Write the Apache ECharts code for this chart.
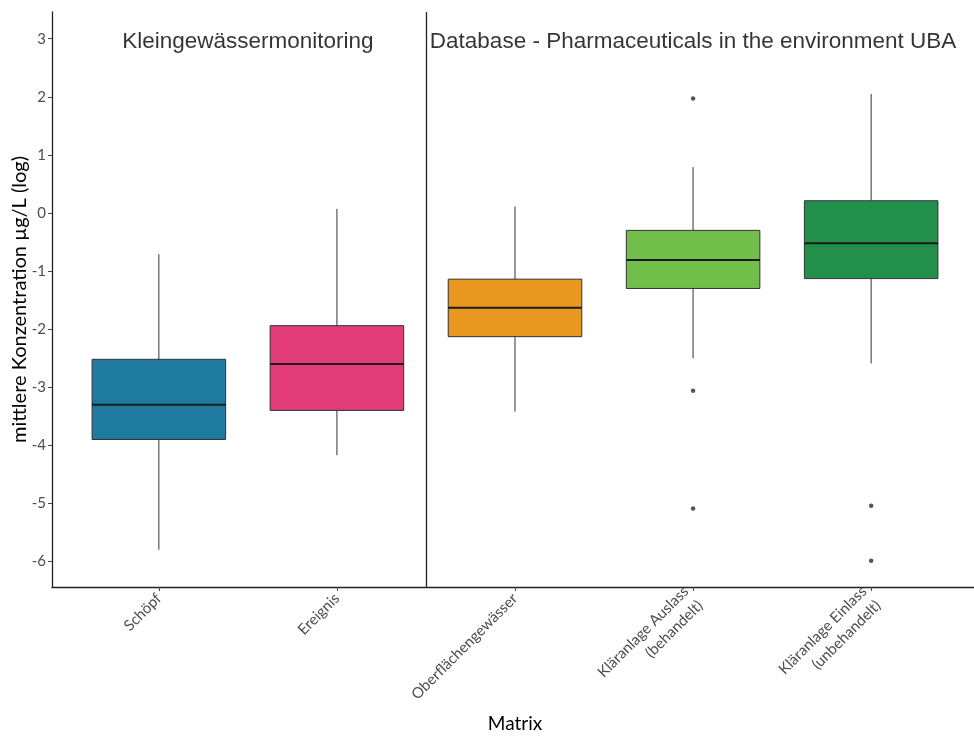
<!DOCTYPE html>
<html>
<head>
<meta charset="utf-8">
<script src="https://cdn.jsdelivr.net/npm/echarts@6/dist/echarts.min.js"></script>
<style>html,body{margin:0;padding:0;background:#fff;}#main{width:974px;height:736px;}</style>
</head>
<body>
<div id="main"></div>
<script>
// ---- data ----
const categories = ['Schöpf', 'Ereignis', 'Oberflächengewässer', 'Kläranlage Auslass\n(behandelt)', 'Kläranlage Einlass\n(unbehandelt)'];
const whiskerLow  = [-5.80, -4.17, -3.42, -2.50, -2.59];
const q1          = [-3.90, -3.40, -2.13, -1.30, -1.13];
const median      = [-3.30, -2.60, -1.63, -0.81, -0.52];
const q3          = [-2.52, -1.94, -1.14, -0.30, 0.21];
const whiskerHigh = [-0.71, 0.07, 0.11, 0.79, 2.05];
const outlierCat  = [4, 4, 4, 5, 5];
const outlierVal  = [1.97, -3.06, -5.09, -5.04, -5.99];
const panelTitles = ['Kleingewässermonitoring', 'Database - Pharmaceuticals in the environment UBA'];
const panelTitleX = [1.5, 4];
const panelTitleY = [3, 3];
const separatorX = 2.5;
const yTicks = [-6, -5, -4, -3, -2, -1, 0, 1, 2, 3];
const xTicks = [1, 2, 3, 4, 5];

// ---- styles ----
const boxColors = ['#1F7AA0', '#E23C78', '#E8981F', '#72BE4B', '#22904A'];
const BOX_WIDTH = 0.75;

const boxData = categories.map((c, i) => [i + 1, whiskerLow[i], q1[i], median[i], q3[i], whiskerHigh[i]]);
const outlierData = outlierCat.map((c, i) => [c, outlierVal[i]]);
const titleData = panelTitles.map((t, i) => [panelTitleX[i], panelTitleY[i], t]);

const chart = echarts.init(document.getElementById('main'));
const tickFont = 'Lato';
chart.setOption({
  animation: false,
  backgroundColor: '#fff',
  grid: { left: 52, right: -4, top: 12, bottom: 149, containLabel: false, outerBoundsMode: 'none' },
  xAxis: {
    type: 'value', min: 0.4, max: 5.6,
    name: 'Matrix', nameLocation: 'middle', nameGap: 127,
    nameTextStyle: { fontFamily: tickFont, fontSize: 19, color: '#000' },
    splitLine: { show: false },
    axisLine: { show: true, onZero: false, lineStyle: { color: '#222', width: 1.3 } },
    axisTick: { show: true, customValues: xTicks, length: 4, lineStyle: { color: '#444' } },
    axisLabel: {
      customValues: xTicks, rotate: 45, margin: 9,
      fontFamily: tickFont, fontSize: 15, color: '#4d4d4d', lineHeight: 20,
      formatter: v => categories[Math.round(v) - 1] || ''
    }
  },
  yAxis: {
    type: 'value', min: -6.44, max: 3.46,
    name: 'mittlere Konzentration µg/L (log)', nameLocation: 'middle', nameGap: 22, nameRotate: 90,
    nameMoveOverlap: false,
    nameTextStyle: { fontFamily: tickFont, fontSize: 20, color: '#000' },
    splitLine: { show: false },
    axisLine: { show: true, onZero: false, lineStyle: { color: '#222', width: 1.3 } },
    axisTick: { show: true, customValues: yTicks, length: 4, lineStyle: { color: '#444' } },
    axisLabel: { customValues: yTicks, margin: 6, fontFamily: tickFont, fontSize: 15, color: '#4d4d4d' }
  },
  series: [
    {
      type: 'custom',
      data: boxData,
      encode: { x: 0, y: [1, 2, 3, 4, 5] },
      renderItem: function (params, api) {
        const x = api.value(0);
        const lo = api.coord([x, api.value(1)]);
        const b1 = api.coord([x, api.value(2)]);
        const md = api.coord([x, api.value(3)]);
        const b3 = api.coord([x, api.value(4)]);
        const hi = api.coord([x, api.value(5)]);
        const w = api.size([BOX_WIDTH, 0])[0];
        const cx = lo[0];
        return {
          type: 'group',
          children: [
            { type: 'line', shape: { x1: cx, y1: hi[1], x2: cx, y2: b3[1] }, style: { stroke: '#333', lineWidth: 1 } },
            { type: 'line', shape: { x1: cx, y1: b1[1], x2: cx, y2: lo[1] }, style: { stroke: '#333', lineWidth: 1 } },
            { type: 'rect', shape: { x: cx - w / 2, y: b3[1], width: w, height: b1[1] - b3[1] },
              style: { fill: boxColors[params.dataIndex], stroke: '#333', lineWidth: 1 } },
            { type: 'line', shape: { x1: cx - w / 2, y1: md[1], x2: cx + w / 2, y2: md[1] }, style: { stroke: '#1a1a1a', lineWidth: 2 } }
          ]
        };
      },
      markLine: {
        silent: true, symbol: 'none', label: { show: false },
        lineStyle: { color: '#222', width: 1.3, type: 'solid' },
        data: [{ xAxis: separatorX }]
      }
    },
    {
      type: 'scatter',
      data: outlierData,
      symbol: 'circle', symbolSize: 4.5,
      itemStyle: { color: '#2a2a2a' }
    },
    {
      type: 'scatter',
      data: titleData,
      symbolSize: 0,
      label: {
        show: true, position: 'inside', offset: [0, 3],
        formatter: p => p.data[2],
        fontFamily: 'Liberation Sans', fontSize: 22.5, color: '#000'
      }
    }
  ]
});
</script>
</body>
</html>
